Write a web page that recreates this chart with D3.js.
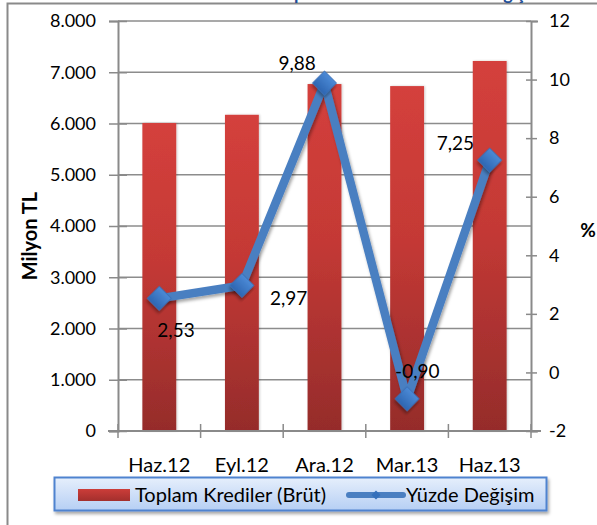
<!DOCTYPE html>
<html>
<head>
<meta charset="utf-8">
<script src="https://cdn.jsdelivr.net/npm/d3@7"></script>
<style>
  body { margin: 0; background: #fff; }
  svg { display: block; font-family: Lato, 'Open Sans', sans-serif; }
</style>
</head>
<body>
<script>
const categories = ['Haz.12', 'Eyl.12', 'Ara.12', 'Mar.13', 'Haz.13']
const credits = [6010, 6170, 6770, 6730, 7220]
const changes = [2.53, 2.97, 9.88, -0.90, 7.25]
const leftTicks = [0, 1000, 2000, 3000, 4000, 5000, 6000, 7000, 8000]
const rightTicks = [-2, 0, 2, 4, 6, 8, 10, 12]

// where each value label sits, relative to its point
const labelOffsets = [[-2, 39], [28, 20], [-46, -13], [-12, -21], [-53, -10]]

const w = 597
const h = 525
const m = { left: 118, right: 531, top: 21, bottom: 431 }

const tr = d3.formatLocale({ decimal: ',', thousands: '.', grouping: [3], currency: ['', ''], minus: '-' })
const fmtK = tr.format(',.0f')
const fmtP = tr.format('.2f')

const svg = d3.select('body')
  .append('svg')
  .attr('width', w)
  .attr('height', h)

const defs = svg.append('defs')

const barGrad = defs.append('linearGradient')
  .attr('id', 'barGrad').attr('x1', 0).attr('y1', 0).attr('x2', 0).attr('y2', 1)
barGrad.append('stop').attr('offset', '0%').attr('stop-color', '#d4403c')
barGrad.append('stop').attr('offset', '45%').attr('stop-color', '#c43935')
barGrad.append('stop').attr('offset', '100%').attr('stop-color', '#952c2b')

const swGrad = defs.append('linearGradient')
  .attr('id', 'swGrad').attr('x1', 0).attr('y1', 0).attr('x2', 0).attr('y2', 1)
swGrad.append('stop').attr('offset', '0%').attr('stop-color', '#cc3d39')
swGrad.append('stop').attr('offset', '100%').attr('stop-color', '#a32f2d')

const dGrad = defs.append('linearGradient')
  .attr('id', 'dGrad').attr('x1', 0).attr('y1', 0).attr('x2', 0).attr('y2', 1)
dGrad.append('stop').attr('offset', '0%').attr('stop-color', '#4b8ad6')
dGrad.append('stop').attr('offset', '100%').attr('stop-color', '#2e66b2')

const legGrad = defs.append('linearGradient')
  .attr('id', 'legGrad').attr('x1', 0).attr('y1', 0).attr('x2', 0).attr('y2', 1)
legGrad.append('stop').attr('offset', '0%').attr('stop-color', '#e6effc')
legGrad.append('stop').attr('offset', '100%').attr('stop-color', '#b6cff4')

const shadow = defs.append('filter').attr('id', 'shadow')
  .attr('x', '-20%').attr('y', '-20%').attr('width', '140%').attr('height', '160%')
shadow.append('feDropShadow')
  .attr('dx', 1.5).attr('dy', 2.5).attr('stdDeviation', 1.8)
  .attr('flood-color', '#000').attr('flood-opacity', 0.35)

const barShadow = defs.append('filter').attr('id', 'barShadow')
  .attr('x', '-20%').attr('y', '-5%').attr('width', '140%').attr('height', '110%')
barShadow.append('feDropShadow')
  .attr('dx', 1).attr('dy', 0).attr('stdDeviation', 1.2)
  .attr('flood-color', '#000').attr('flood-opacity', 0.2)

// outer frame
svg.append('rect')
  .attr('x', 7.5).attr('y', 3.5)
  .attr('width', 620).attr('height', 540)
  .attr('fill', 'none').attr('stroke', '#8a8a8a').attr('stroke-width', 2)

// title, only its lowest strokes show above the frame
svg.append('text')
  .attr('x', 410).attr('y', 0)
  .attr('text-anchor', 'middle')
  .attr('fill', '#1f4e96').attr('font-weight', 'bold').attr('font-size', 18)
  .text('Toplam Krediler ve Yüzde Değişim')

const xScale = d3.scaleBand()
  .domain(categories)
  .range([m.left, m.right])
  .paddingInner(0.59)
  .paddingOuter(0.295)

const yLeft = d3.scaleLinear().domain([0, 8000]).range([m.bottom, m.top])
const yRight = d3.scaleLinear().domain([-2, 12]).range([m.bottom, m.top])

// gridlines
svg.append('g')
  .selectAll('line')
  .data(leftTicks.slice(1))
  .enter()
  .append('line')
  .attr('x1', m.left).attr('x2', m.right)
  .attr('y1', d => yLeft(d)).attr('y2', d => yLeft(d))
  .attr('stroke', '#8c8c8c').attr('stroke-width', 1.5)

// bars
svg.append('g')
  .selectAll('rect')
  .data(credits)
  .enter()
  .append('rect')
  .attr('x', (d, i) => xScale(categories[i]))
  .attr('width', xScale.bandwidth())
  .attr('y', d => yLeft(d))
  .attr('height', d => yLeft(0) - yLeft(d))
  .attr('fill', 'url(#barGrad)')
  .attr('filter', 'url(#barShadow)')

// axes
const axisColor = '#8a8a8a'
const leftAxis = svg.append('g')
  .attr('transform', `translate(${m.left}, 0)`)
  .call(d3.axisLeft(yLeft).tickValues(leftTicks).tickFormat(fmtK).tickSize(9).tickPadding(13))
const rightAxis = svg.append('g')
  .attr('transform', `translate(${m.right}, 0)`)
  .call(d3.axisRight(yRight).tickValues(rightTicks).tickFormat(tr.format('d')).tickSize(7).tickPadding(11))

const boundaries = categories.map(c => xScale(c) - xScale.step() * xScale.paddingOuter())
boundaries.push(m.right)
const xAxis = svg.append('g')
  .attr('transform', `translate(0, ${m.bottom})`)
  .call(d3.axisBottom(xScale).tickSize(0).tickPadding(27))

;[leftAxis, rightAxis, xAxis].forEach(g => {
  g.select('.domain').attr('stroke', axisColor).attr('stroke-width', 2)
  g.selectAll('.tick line').attr('stroke', axisColor).attr('stroke-width', 1.5)
  g.selectAll('.tick text').attr('fill', '#000').attr('font-size', 18).attr('font-family', 'Lato, sans-serif')
})
xAxis.selectAll('.tick text').attr('font-size', 20)
leftAxis.selectAll('.tick line').attr('x2', 9).attr('x1', -9)
rightAxis.selectAll('.tick line').attr('x1', -5).attr('x2', 6)
xAxis.select('.domain').attr('d', `M${m.left - 10},0H${m.right + 10}`)

xAxis.selectAll('.boundary')
  .data(boundaries)
  .enter()
  .append('line')
  .attr('x1', d => d).attr('x2', d => d)
  .attr('y1', -7).attr('y2', 7)
  .attr('stroke', axisColor).attr('stroke-width', 1.5)

// axis titles
svg.append('text')
  .attr('transform', 'translate(37, 236) rotate(-90)')
  .attr('text-anchor', 'middle')
  .attr('font-weight', 'bold').attr('font-size', 20)
  .text('Milyon TL')

svg.append('text')
  .attr('x', 588).attr('y', 237)
  .attr('text-anchor', 'middle')
  .attr('font-weight', 'bold').attr('font-size', 19)
  .text('%')

// line series
const cx = i => xScale(categories[i]) + xScale.bandwidth() / 2
const line = d3.line()
  .x((d, i) => cx(i))
  .y(d => yRight(d))

svg.append('path')
  .datum(changes)
  .attr('d', line)
  .attr('fill', 'none')
  .attr('stroke', '#4a7fc1')
  .attr('stroke-width', 8.5)
  .attr('stroke-linejoin', 'round')
  .attr('filter', 'url(#shadow)')

const diamond = d3.symbol().type(d3.symbolSquare).size(290)
svg.append('g')
  .selectAll('path')
  .data(changes)
  .enter()
  .append('path')
  .attr('d', diamond)
  .attr('transform', (d, i) => `translate(${cx(i)}, ${yRight(d)}) rotate(45)`)
  .attr('fill', 'url(#dGrad)')
  .attr('stroke', '#3a6fb5')
  .attr('stroke-width', 0.8)
  .attr('filter', 'url(#shadow)')

// value labels
svg.append('g')
  .selectAll('text')
  .data(changes)
  .enter()
  .append('text')
  .attr('x', (d, i) => cx(i) + labelOffsets[i][0])
  .attr('y', (d, i) => yRight(d) + labelOffsets[i][1])
  .attr('font-size', 19)
  .text(d => fmtP(d))

// legend
const leg = svg.append('g')
leg.append('rect')
  .attr('x', 54.5).attr('y', 477.5)
  .attr('width', 492).attr('height', 33)
  .attr('fill', 'url(#legGrad)')
  .attr('stroke', '#4f83cf').attr('stroke-width', 2)
  .attr('filter', 'url(#shadow)')
leg.append('rect')
  .attr('x', 78).attr('y', 489)
  .attr('width', 52).attr('height', 12)
  .attr('fill', 'url(#swGrad)')
leg.append('text')
  .attr('x', 135).attr('y', 502)
  .attr('font-size', 20)
  .text('Toplam Krediler (Brüt)')
leg.append('line')
  .attr('x1', 349).attr('x2', 403)
  .attr('y1', 495).attr('y2', 495)
  .attr('stroke', '#4a7fc1').attr('stroke-width', 6).attr('stroke-linecap', 'round')
leg.append('path')
  .attr('d', d3.symbol().type(d3.symbolSquare).size(40))
  .attr('transform', 'translate(376, 495) rotate(45)')
  .attr('fill', '#3570bb')
leg.append('text')
  .attr('x', 406).attr('y', 502)
  .attr('font-size', 20)
  .text('Yüzde Değişim')
</script>
</body>
</html>
